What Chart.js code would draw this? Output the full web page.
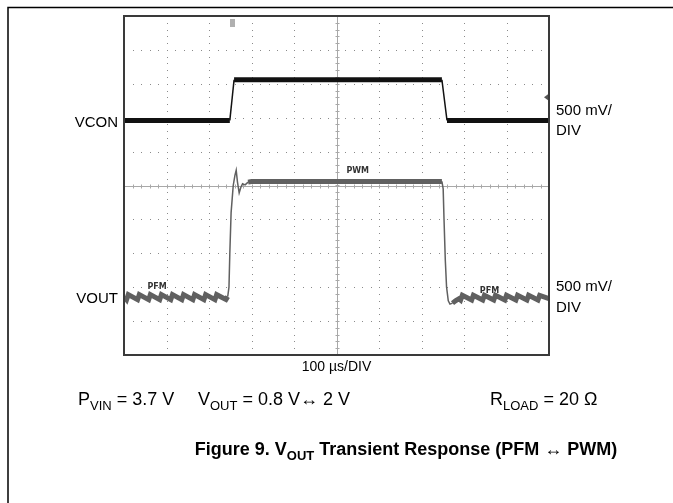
<!DOCTYPE html>
<html>
<head>
<meta charset="utf-8">
<script src="https://cdn.jsdelivr.net/npm/chart.js@4.4.0/dist/chart.umd.min.js"></script>
<style>
  body { margin: 0; background: #fff; }
  canvas { display: block; }
</style>
</head>
<body>
<canvas id="scope" width="673" height="503"></canvas>
<script>
// time axis in µs (100 µs/DIV, 10 divisions), vertical axis in divisions (0..10)
var vconTime = [0, 249, 259, 748, 760, 1000];
var vconLevel = [6.92, 6.92, 8.12, 8.12, 6.92, 6.92];

var voutTime = [0, 6, 10, 32, 36, 58, 62, 84, 88, 110, 114, 136, 140, 162, 166, 188, 192, 214, 218, 240, 244,
  247, 249, 252, 257, 261, 264, 267, 271, 275, 279, 285, 292, 300, 400, 500, 600, 700, 748,
  751, 753, 756, 759, 763, 767, 773, 780, 788, 792, 796, 818, 822, 844, 848, 870, 874, 896, 900,
  922, 926, 948, 952, 974, 978, 1000];
var voutLevel = [1.72, 1.63, 1.78, 1.63, 1.78, 1.63, 1.78, 1.63, 1.78, 1.63, 1.78, 1.63, 1.78, 1.63, 1.78, 1.63, 1.78, 1.63, 1.78, 1.64, 1.72,
  2.0, 3.0, 4.2, 5.0, 5.3, 5.45, 5.1, 4.78, 4.95, 5.05, 5.02, 5.1, 5.12, 5.12, 5.12, 5.12, 5.12, 5.12,
  4.9, 4.0, 2.8, 2.0, 1.6, 1.5, 1.53, 1.6, 1.66, 1.62, 1.76, 1.62, 1.76, 1.62, 1.76, 1.62, 1.76, 1.62, 1.76,
  1.62, 1.76, 1.62, 1.76, 1.62, 1.76, 1.66];

var xTicks = [0, 100, 200, 300, 400, 500, 600, 700, 800, 900, 1000];
var yTicks = [0, 1, 2, 3, 4, 5, 6, 7, 8, 9, 10];

// mode labels drawn on the scope screen: [text, time, level]
var modeLabels = [["PWM", 550, 5.42], ["PFM", 78, 2.02], ["PFM", 860, 1.9]];

// time spans where VOUT switches (drawn thin, no noise band)
var edgeSpans = [[246, 290], [748, 772]];

function toPoints(xs, ys) {
  var pts = [];
  for (var i = 0; i < xs.length; i++) {
    pts.push({x: xs[i], y: ys[i]});
  }
  return pts;
}

function inEdge(s) {
  var t0 = s.p0.parsed.x, t1 = s.p1.parsed.x;
  for (var i = 0; i < edgeSpans.length; i++) {
    if (t1 > edgeSpans[i][0] && t0 < edgeSpans[i][1]) return true;
  }
  return false;
}
function isSteep(s) {
  var dx = Math.abs(s.p1.x - s.p0.x);
  var dy = Math.abs(s.p1.y - s.p0.y);
  return dy > 8 && dy > 3 * dx;
}

var scopePlugin = {
  id: 'scopeScreen',
  beforeDatasetsDraw: function(chart) {
    var c = chart.ctx, a = chart.chartArea;
    var xs = chart.scales.x, ys = chart.scales.y;
    c.save();
    c.fillStyle = '#8a8a8a';
    // dotted grid: dots at every fifth of a division
    for (var i = 0; i < xTicks.length; i++) {
      var px = Math.round(xs.getPixelForValue(xTicks[i]));
      for (var v = 0; v <= 10.001; v += 0.2) {
        c.fillRect(px, Math.round(ys.getPixelForValue(v)), 1, 1);
      }
    }
    for (var j = 0; j < yTicks.length; j++) {
      var py = Math.round(ys.getPixelForValue(yTicks[j]));
      for (var t = 0; t <= 1000.1; t += 20) {
        c.fillRect(Math.round(xs.getPixelForValue(t)), py, 1, 1);
      }
    }
    // centre cross with minor ticks
    var cx = Math.round(xs.getPixelForValue(500)) + 0.5;
    var cy = Math.round(ys.getPixelForValue(5)) + 0.5;
    c.strokeStyle = '#a8a8a8';
    c.lineWidth = 1;
    c.beginPath();
    c.moveTo(a.left, cy); c.lineTo(a.right, cy);
    c.moveTo(cx, a.top); c.lineTo(cx, a.bottom);
    for (var t2 = 0; t2 <= 1000.1; t2 += 20) {
      var tx = Math.round(xs.getPixelForValue(t2)) + 0.5;
      c.moveTo(tx, cy - 2); c.lineTo(tx, cy + 2);
    }
    for (var v2 = 0; v2 <= 10.001; v2 += 0.2) {
      var ty = Math.round(ys.getPixelForValue(v2)) + 0.5;
      c.moveTo(cx - 2, ty); c.lineTo(cx + 2, ty);
    }
    c.stroke();

    // trigger position marker and trigger level marker
    c.fillStyle = '#b0b0b0';
    c.fillRect(Math.round(xs.getPixelForValue(255)) - 2, a.top + 3, 5, 8);
    c.fillStyle = '#555';
    var ly = ys.getPixelForValue(7.6);
    c.beginPath();
    c.moveTo(a.right - 1, ly - 3); c.lineTo(a.right - 5, ly); c.lineTo(a.right - 1, ly + 3);
    c.fill();
    c.restore();
  },
  afterDatasetsDraw: function(chart) {
    var c = chart.ctx, a = chart.chartArea;
    var xs = chart.scales.x, ys = chart.scales.y;
    c.save();
    // screen frame
    c.strokeStyle = '#3a3a3a';
    c.lineWidth = 2;
    c.strokeRect(a.left, a.top, a.right - a.left, a.bottom - a.top);

    // mode labels
    c.fillStyle = '#333';
    c.font = 'bold 8px "DejaVu Sans"';
    c.textAlign = 'center';
    c.textBaseline = 'middle';
    for (var i = 0; i < modeLabels.length; i++) {
      c.fillText(modeLabels[i][0], xs.getPixelForValue(modeLabels[i][1]), ys.getPixelForValue(modeLabels[i][2]));
    }

    // channel names and scale factors
    c.fillStyle = '#000';
    c.font = '15px "Liberation Sans"';
    c.textAlign = 'right';
    c.fillText('VCON', a.left - 6, ys.getPixelForValue(vconLevel[0]) + 2);
    c.fillText('VOUT', a.left - 6, ys.getPixelForValue(1.7) + 1);
    c.textAlign = 'left';
    c.fillText('500 mV/', a.right + 7, ys.getPixelForValue(7.2));
    c.fillText('DIV', a.right + 7, ys.getPixelForValue(6.6));
    c.fillText('500 mV/', a.right + 7, ys.getPixelForValue(2.0));
    c.fillText('DIV', a.right + 7, ys.getPixelForValue(1.4));

    c.textAlign = 'center';
    c.font = '14px "Liberation Sans"';
    c.fillText('100 µs/DIV', xs.getPixelForValue(500), a.bottom + 12);
    c.restore();
  }
};

// outside text with subscripts
function drawSub(c, parts, x, y, size, bold) {
  var w = bold ? 'bold ' : '';
  var cur = x;
  for (var i = 0; i < parts.length; i++) {
    var sub = parts[i][1];
    c.font = w + (sub ? Math.round(size * 0.72) : size) + 'px "Liberation Sans"';
    c.fillText(parts[i][0], cur, sub ? y + size * 0.28 : y);
    cur += c.measureText(parts[i][0]).width;
  }
  return cur;
}
function measureSub(c, parts, size, bold) {
  var w = bold ? 'bold ' : '';
  var total = 0;
  for (var i = 0; i < parts.length; i++) {
    c.font = w + (parts[i][1] ? Math.round(size * 0.72) : size) + 'px "Liberation Sans"';
    total += c.measureText(parts[i][0]).width;
  }
  return total;
}

var captionPlugin = {
  id: 'caption',
  afterDraw: function(chart) {
    var c = chart.ctx;
    c.save();
    // page frame
    c.strokeStyle = '#000';
    c.lineWidth = 1.5;
    c.beginPath();
    c.moveTo(8, 503); c.lineTo(8, 7.5); c.lineTo(673, 7.5);
    c.stroke();

    c.fillStyle = '#000';
    c.textAlign = 'left';
    c.textBaseline = 'alphabetic';
    drawSub(c, [['P', false], ['VIN', true], [' = 3.7 V', false]], 78, 405, 18, false);
    drawSub(c, [['V', false], ['OUT', true], [' = 0.8 V\u2194 2 V', false]], 198, 405, 18, false);
    drawSub(c, [['R', false], ['LOAD', true], [' = 20 \u03A9', false]], 490, 405, 18, false);

    var title = [['Figure 9. V', false], ['OUT', true], [' Transient Response (PFM \u2194 PWM)', false]];
    var tw = measureSub(c, title, 18, true);
    drawSub(c, title, 406 - tw / 2, 455, 18, true);
    c.restore();
  }
};

var vconWidth = function(s) { return isSteep(s) ? 1.5 : 5; };
var voutWidth = function(s) { return (inEdge(s) || isSteep(s)) ? 1.5 : 5; };

var ctx = document.getElementById('scope');
var scopeChart = new Chart(ctx, {
  type: 'line',
  data: {
    datasets: [
      {
        label: 'VCON',
        data: toPoints(vconTime, vconLevel),
        borderColor: '#111',
        borderCapStyle: 'butt',
        pointRadius: 0,
        tension: 0,
        segment: { borderWidth: vconWidth }
      },
      {
        label: 'VOUT',
        data: toPoints(voutTime, voutLevel),
        borderColor: '#606060',
        borderCapStyle: 'butt',
        pointRadius: 0,
        tension: 0,
        segment: { borderWidth: voutWidth }
      },
      {
        label: 'VOUT core',
        data: toPoints(voutTime, voutLevel),
        borderColor: '#a4a4a4',
        borderWidth: 1.5,
        pointRadius: 0,
        tension: 0,
        segment: { borderColor: function(s) { return (inEdge(s) || isSteep(s)) ? 'rgba(0,0,0,0)' : '#a4a4a4'; } }
      }
    ]
  },
  options: {
    responsive: false,
    animation: false,
    layout: { padding: { left: 124, right: 124, top: 16, bottom: 148 } },
    plugins: { legend: { display: false }, tooltip: { enabled: false } },
    scales: {
      x: { type: 'linear', min: 0, max: 1000, display: false },
      y: { type: 'linear', min: 0, max: 10, display: false }
    }
  },
  plugins: [scopePlugin, captionPlugin]
});
</script>
</body>
</html>
